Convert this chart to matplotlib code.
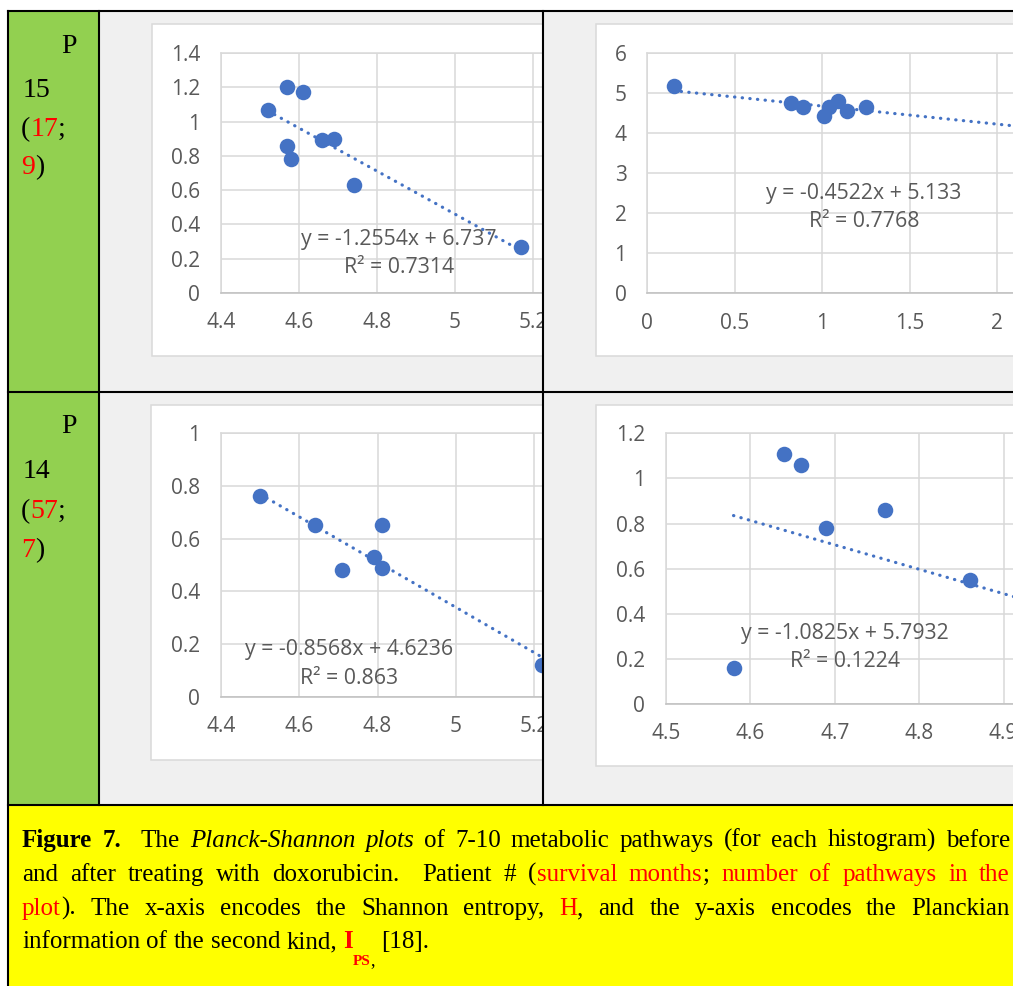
import numpy as np
import matplotlib.pyplot as plt
from matplotlib.patches import Rectangle

# ---- data ----
tl_x = [4.52, 4.57, 4.61, 4.57, 4.58, 4.66, 4.69, 4.74, 5.17]
tl_y = [1.07, 1.20, 1.17, 0.86, 0.78, 0.89, 0.90, 0.63, 0.27]
tl_fit = (-1.2554, 6.737)
tl_r2 = 0.7314
tl_trend = (4.52, 5.17)

tr_x = [0.15, 0.82, 0.89, 1.01, 1.04, 1.09, 1.14, 1.25]
tr_y = [5.19, 4.77, 4.66, 4.43, 4.65, 4.82, 4.56, 4.66]
tr_fit = (-0.4522, 5.133)
tr_r2 = 0.7768
tr_trend = (0.15, 2.6)

bl_x = [4.50, 4.64, 4.81, 4.71, 4.79, 4.81, 5.22]
bl_y = [0.76, 0.65, 0.65, 0.48, 0.53, 0.49, 0.12]
bl_fit = (-0.8568, 4.6236)
bl_r2 = 0.863
bl_trend = (4.50, 5.22)

br_x = [4.58, 4.64, 4.66, 4.69, 4.76, 4.86]
br_y = [0.16, 1.11, 1.06, 0.78, 0.86, 0.55]
br_fit = (-1.0825, 5.7932)
br_r2 = 0.1224
br_trend = (4.58, 5.05)

W, H = 1013, 986
fig = plt.figure(figsize=(W / 100, H / 100), dpi=100)

BLUE = '#4472C4'
GRID = '#D9D9D9'
TXT = '#595959'
CELL = '#F0F0F0'
SANS = 'Open Sans'
SERIF = 'Liberation Serif'
TICK_SIZE = 15
EQ_SIZE = 15.3


def layer(z):
    ax = fig.add_axes([0, 0, 1, 1], zorder=z)
    ax.set_xlim(0, W)
    ax.set_ylim(H, 0)
    ax.axis('off')
    return ax


def box(ax, x0, y0, x1, y1, fc, ec='none', lw=0):
    ax.add_patch(Rectangle((x0, y0), x1 - x0, y1 - y0, facecolor=fc,
                           edgecolor=ec, linewidth=lw))


def fmt(v):
    return f"{round(v, 6):g}"


def make_chart(left, top, bottom, ppx, xlim, ylim, xstep, ystep,
               xs, ys, fit, trend, r2, eq_x, eq_y, z):
    width = (xlim[1] - xlim[0]) * ppx
    ax = fig.add_axes([left / W, 1 - bottom / H, width / W, (bottom - top) / H], zorder=z)
    ax.set_xlim(*xlim)
    ax.set_ylim(*ylim)
    xt = np.arange(xlim[0], xlim[1] + 1e-9, xstep)
    yt = np.arange(ylim[0], ylim[1] + 1e-9, ystep)
    ax.set_xticks(xt, [fmt(v) for v in xt])
    ax.set_yticks(yt, [fmt(v) for v in yt])
    ax.tick_params(length=0, labelsize=TICK_SIZE, labelcolor=TXT)
    ax.tick_params(axis='y', pad=15)
    ax.tick_params(axis='x', pad=14)
    for lab in ax.get_xticklabels() + ax.get_yticklabels():
        lab.set_fontfamily(SANS)
    ax.grid(True, color=GRID, lw=1.1)
    ax.set_axisbelow(True)
    for s in ax.spines.values():
        s.set_color(GRID)
        s.set_linewidth(1.1)
    ax.spines['bottom'].set_color('#BFBFBF')
    ax.scatter(xs, ys, s=125, color=BLUE, zorder=3, linewidths=0)
    m, b = fit
    tx = np.array(trend)
    ax.plot(tx, m * tx + b, color=BLUE, lw=2.3, linestyle=(0, (0.1, 2.3)),
            dash_capstyle='round', zorder=4)
    sign = '+' if b >= 0 else '-'
    ax.text(eq_x / W, 1 - eq_y / H, f"y = {m}x {sign} {abs(b)}",
            transform=fig.transFigure, ha='center', va='center',
            fontsize=EQ_SIZE, color=TXT, family=SANS)
    ax.text(eq_x / W, 1 - (eq_y + 28.5) / H, f"R² = {r2}",
            transform=fig.transFigure, ha='center', va='center',
            fontsize=EQ_SIZE, color=TXT, family=SANS)
    return ax


# ---- background layer: cells of the left half ----
bg = layer(0)
box(bg, 8, 11, 99, 805, '#92D050')
box(bg, 99, 11, 543, 805, CELL)
box(bg, 8, 805, W, H, '#FFFF00')
box(bg, 152, 23.5, 700, 355.5, 'white', GRID, 1.1)
box(bg, 151, 404.5, 700, 760, 'white', GRID, 1.1)

make_chart(221, 53, 293, 390, (4.4, 5.4), (0, 1.4), 0.2, 0.2,
           tl_x, tl_y, tl_fit, tl_trend, tl_r2, 399, 239, 1)
make_chart(221, 433, 697, 391.5, (4.4, 5.4), (0, 1.0), 0.2, 0.2,
           bl_x, bl_y, bl_fit, bl_trend, bl_r2, 349, 650, 1)

# ---- right half covers the overflow of the left charts ----
cover = layer(2)
box(cover, 543, 11, W + 5, 805, CELL)
box(cover, 596, 23.5, W + 50, 355.5, 'white', GRID, 1.1)
box(cover, 596, 405, W + 50, 765.5, 'white', GRID, 1.1)

make_chart(647.3, 53.3, 293.3, 175, (0, 2.5), (0, 6), 0.5, 1,
           tr_x, tr_y, tr_fit, tr_trend, tr_r2, 864, 193, 3)
make_chart(666, 433.3, 704, 844, (4.5, 5.0), (0, 1.2), 0.1, 0.2,
           br_x, br_y, br_fit, br_trend, br_r2, 845, 633, 3)

# ---- table rules, row labels and caption ----
top = layer(10)
lw = 1.5
top.plot([8, W], [11, 11], color='black', lw=lw)
top.plot([8, 8], [11, H], color='black', lw=lw)
top.plot([99, 99], [11, 805], color='black', lw=lw)
top.plot([543, 543], [11, 805], color='black', lw=lw)
top.plot([8, W], [391.5, 391.5], color='black', lw=lw)
top.plot([8, W], [804.5, 804.5], color='black', lw=lw)

renderer = fig.canvas.get_renderer()


def draw_pieces(ax, x, y, pieces, size):
    for text, color in pieces:
        t = ax.text(x, y, text, color=color, fontsize=size, family=SERIF,
                    ha='left', va='baseline')
        x += t.get_window_extent(renderer).width
    return x


row_size = 20
row_labels = [
    (61, 53, [("P", 'black')]),
    (23, 97, [("15", 'black')]),
    (21, 136, [("(", 'black'), ("17", 'red'), (";", 'black')]),
    (21, 174, [("9", 'red'), (")", 'black')]),
    (61, 433, [("P", 'black')]),
    (23, 478, [("14", 'black')]),
    (21, 518, [("(", 'black'), ("57", 'red'), (";", 'black')]),
    (21, 557, [("7", 'red'), (")", 'black')]),
]
for x, y, pieces in row_labels:
    draw_pieces(top, x, y, pieces, row_size)

cap_size = 18
styles = {
    'n': dict(color='black'),
    'b': dict(color='black', weight='bold'),
    'i': dict(color='black', style='italic'),
    'r': dict(color='red'),
    'rb': dict(color='red', weight='bold'),
    'sub': dict(color='red', weight='bold', fontsize=11, dy=17),
    'subn': dict(color='black', fontsize=13, dy=17),
}
caption = [
    [("Figure 7.", 'b'), ("  The ", 'n'), ("Planck-Shannon plots", 'i'),
     (" of 7-10 metabolic pathways (for each histogram) before", 'n')],
    [("and after treating with doxorubicin.  Patient # (", 'n'),
     ("survival months", 'r'), ("; ", 'n'), ("number of pathways in the", 'r')],
    [("plot", 'r'), ("). The x-axis encodes the Shannon entropy, ", 'n'), ("H", 'r'),
     (", and the y-axis encodes the Planckian", 'n')],
    [("information of the second kind, ", 'n'), ("I", 'rb'), ("PS", 'sub'),
     (",", 'subn'), (" [18].", 'n')],
]
cap_base = [847, 881, 915, 948]
cap_left, cap_right = 22, 1010


def split_words(segments):
    words = [[]]
    for text, key in segments:
        parts = text.split(' ')
        for i, p in enumerate(parts):
            if i > 0:
                words.append([])
            if p:
                words[-1].append((p, key))
    while words and not words[0]:
        words.pop(0)
    while words and not words[-1]:
        words.pop()
    return words


def draw_word(word, x, y, measure_only=False):
    x_start = x
    for text, key in word:
        st = dict(styles[key])
        dy = st.pop('dy', 0)
        size = st.pop('fontsize', cap_size)
        t = top.text(x, y + dy, text, fontsize=size, family=SERIF,
                     ha='left', va='baseline', **st)
        x += t.get_window_extent(renderer).width
        if measure_only:
            t.remove()
    return x - x_start


for i, segs in enumerate(caption):
    words = split_words(segs)
    widths = [draw_word(w, 0, -100, measure_only=True) for w in words]
    justify = i < len(caption) - 1
    if justify:
        gap = (cap_right - cap_left - sum(widths)) / (len(words) - 1)
    else:
        gap = cap_size * 100 / 72 * 0.25
    x = cap_left
    for w, wd in zip(words, widths):
        if w:
            draw_word(w, x, cap_base[i])
        x += wd + gap

fig.savefig('out.png', dpi=100)
